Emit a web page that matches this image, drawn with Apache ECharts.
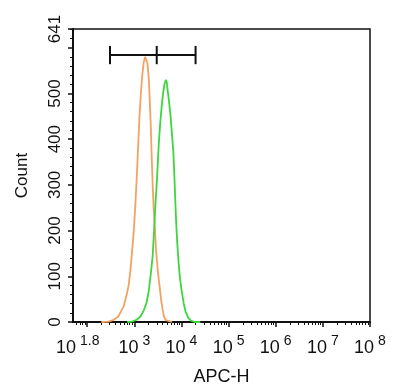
<!DOCTYPE html>
<html>
<head>
<meta charset="utf-8">
<script src="https://cdn.jsdelivr.net/npm/echarts@6/dist/echarts.min.js"></script>
<style>
html,body{margin:0;padding:0;background:#fff;}
#c{width:400px;height:392px;}
</style>
</head>
<body>
<div id="c"></div>
<script>
// x values are log10(APC-H)
const xMin = 1.7, xMax = 8;
const xLabelValues = [1.8, 3, 4, 5, 6, 7, 8];
const xLabelExponents = ['1.8', '3', '4', '5', '6', '7', '8'];
const xMajorTicks = [2, 3, 4, 5, 6, 7, 8];
const yMax = 641;

const orangeLog = [2.30,2.45,2.55,2.66,2.77,2.84,2.88,2.92,2.95,2.99,3.02,3.05,3.08,3.11,3.14,3.17,3.20,3.23,3.25,3.28,3.31,3.33,3.35,3.37,3.39,3.41,3.44,3.46,3.50,3.54,3.57,3.60,3.63,3.67,3.71,3.80];
const orangeCount = [0,1,4,12,33,60,80,115,150,200,252,310,380,450,500,540,568,580,576,565,530,480,430,360,300,250,200,160,110,75,48,28,12,4,0,0];

const greenLog = [2.85,2.95,3.05,3.13,3.20,3.26,3.31,3.35,3.39,3.42,3.45,3.48,3.50,3.52,3.55,3.58,3.61,3.64,3.67,3.69,3.71,3.74,3.77,3.80,3.83,3.85,3.87,3.89,3.91,3.94,3.97,4.01,4.05,4.09,4.14,4.20,4.28,4.40];
const greenCount = [0,1,5,12,25,42,70,105,145,200,260,310,350,390,435,470,500,520,530,524,505,480,450,410,370,320,265,215,175,130,95,65,40,22,10,3,0,0];

const gateLog = [2.485, 3.476, 4.30];
const gateCount = 584;
const gateCapHalf = 20;

const xMinorTicks = [];
for (let n = 1; n < 8; n++) {
  for (let k = 2; k <= 9; k++) {
    const v = n + Math.log10(k);
    if (v >= xMin && v <= xMax) xMinorTicks.push(v);
  }
}

const FONT = "'Liberation Sans', Arial, sans-serif";
const zip = (a, b) => a.map((v, i) => [v, b[i]]);

const chart = echarts.init(document.getElementById('c'), null, {renderer: 'canvas'});
const gateSeries = [];
gateSeries.push({
  type: 'line', xAxisIndex: 0, data: [[gateLog[0], gateCount], [gateLog[2], gateCount]],
  symbol: 'none', lineStyle: {color: '#111', width: 2}, silent: true, z: 5
});
gateLog.forEach(g => {
  gateSeries.push({
    type: 'line', xAxisIndex: 0, data: [[g, gateCount - gateCapHalf], [g, gateCount + gateCapHalf]],
    symbol: 'none', lineStyle: {color: '#111', width: 2}, silent: true, z: 5
  });
});

chart.setOption({
  animation: false,
  grid: {left: 73, top: 29, right: 30, bottom: 70, show: true, borderColor: '#111', borderWidth: 1.5, backgroundColor: 'transparent'},
  xAxis: [{
    type: 'value', min: xMin, max: xMax, position: 'bottom',
    name: 'APC-H', nameLocation: 'middle', nameGap: 46,
    nameTextStyle: {fontFamily: FONT, fontSize: 18, color: '#111'},
    axisLine: {show: true, onZero: false, lineStyle: {color: '#111', width: 2}},
    axisTick: {show: true, length: 5, lineStyle: {color: '#111', width: 1.5}, customValues: xMajorTicks},
    axisLabel: {
      show: true, margin: 12, customValues: xLabelValues,
      formatter: function (v) {
        let idx = xLabelValues.findIndex(x => Math.abs(x - v) < 1e-6);
        return '{b|10}{s|' + (idx >= 0 ? xLabelExponents[idx] : '') + '}';
      },
      rich: {
        b: {fontFamily: FONT, fontSize: 18, lineHeight: 23, color: '#111', verticalAlign: 'bottom'},
        s: {fontFamily: FONT, fontSize: 14, lineHeight: 14, color: '#111', verticalAlign: 'top', padding: [0, 0, 0, 4]}
      }
    },
    splitLine: {show: false}
  }, {
    type: 'value', min: xMin, max: xMax, position: 'bottom',
    axisLine: {show: false, onZero: false},
    axisTick: {show: true, length: 3, lineStyle: {color: '#111', width: 1}, customValues: xMinorTicks},
    axisLabel: {show: false},
    splitLine: {show: false}
  }],
  yAxis: {
    type: 'value', min: 0, max: yMax, interval: 100,
    name: 'Count', nameLocation: 'middle', nameGap: 42, nameRotate: 90,
    nameTextStyle: {fontFamily: FONT, fontSize: 17, color: '#111'},
    axisLine: {show: true, lineStyle: {color: '#111', width: 2}},
    axisTick: {show: true, length: 5, lineStyle: {color: '#111', width: 1.5}},
    minorTick: {show: true, splitNumber: 5, length: 3, lineStyle: {color: '#111', width: 1}},
    axisLabel: {show: true, rotate: 90, margin: 9, fontFamily: FONT, fontSize: 17, color: '#111', showMaxLabel: true},
    splitLine: {show: false}
  },
  series: [{
    type: 'line', data: zip(orangeLog, orangeCount), symbol: 'none',
    lineStyle: {color: '#F2A263', width: 1.8}, silent: true, z: 3
  }, {
    type: 'line', data: zip(greenLog, greenCount), symbol: 'none',
    lineStyle: {color: '#3ED63E', width: 1.8}, silent: true, z: 4
  }].concat(gateSeries)
});
</script>
</body>
</html>
